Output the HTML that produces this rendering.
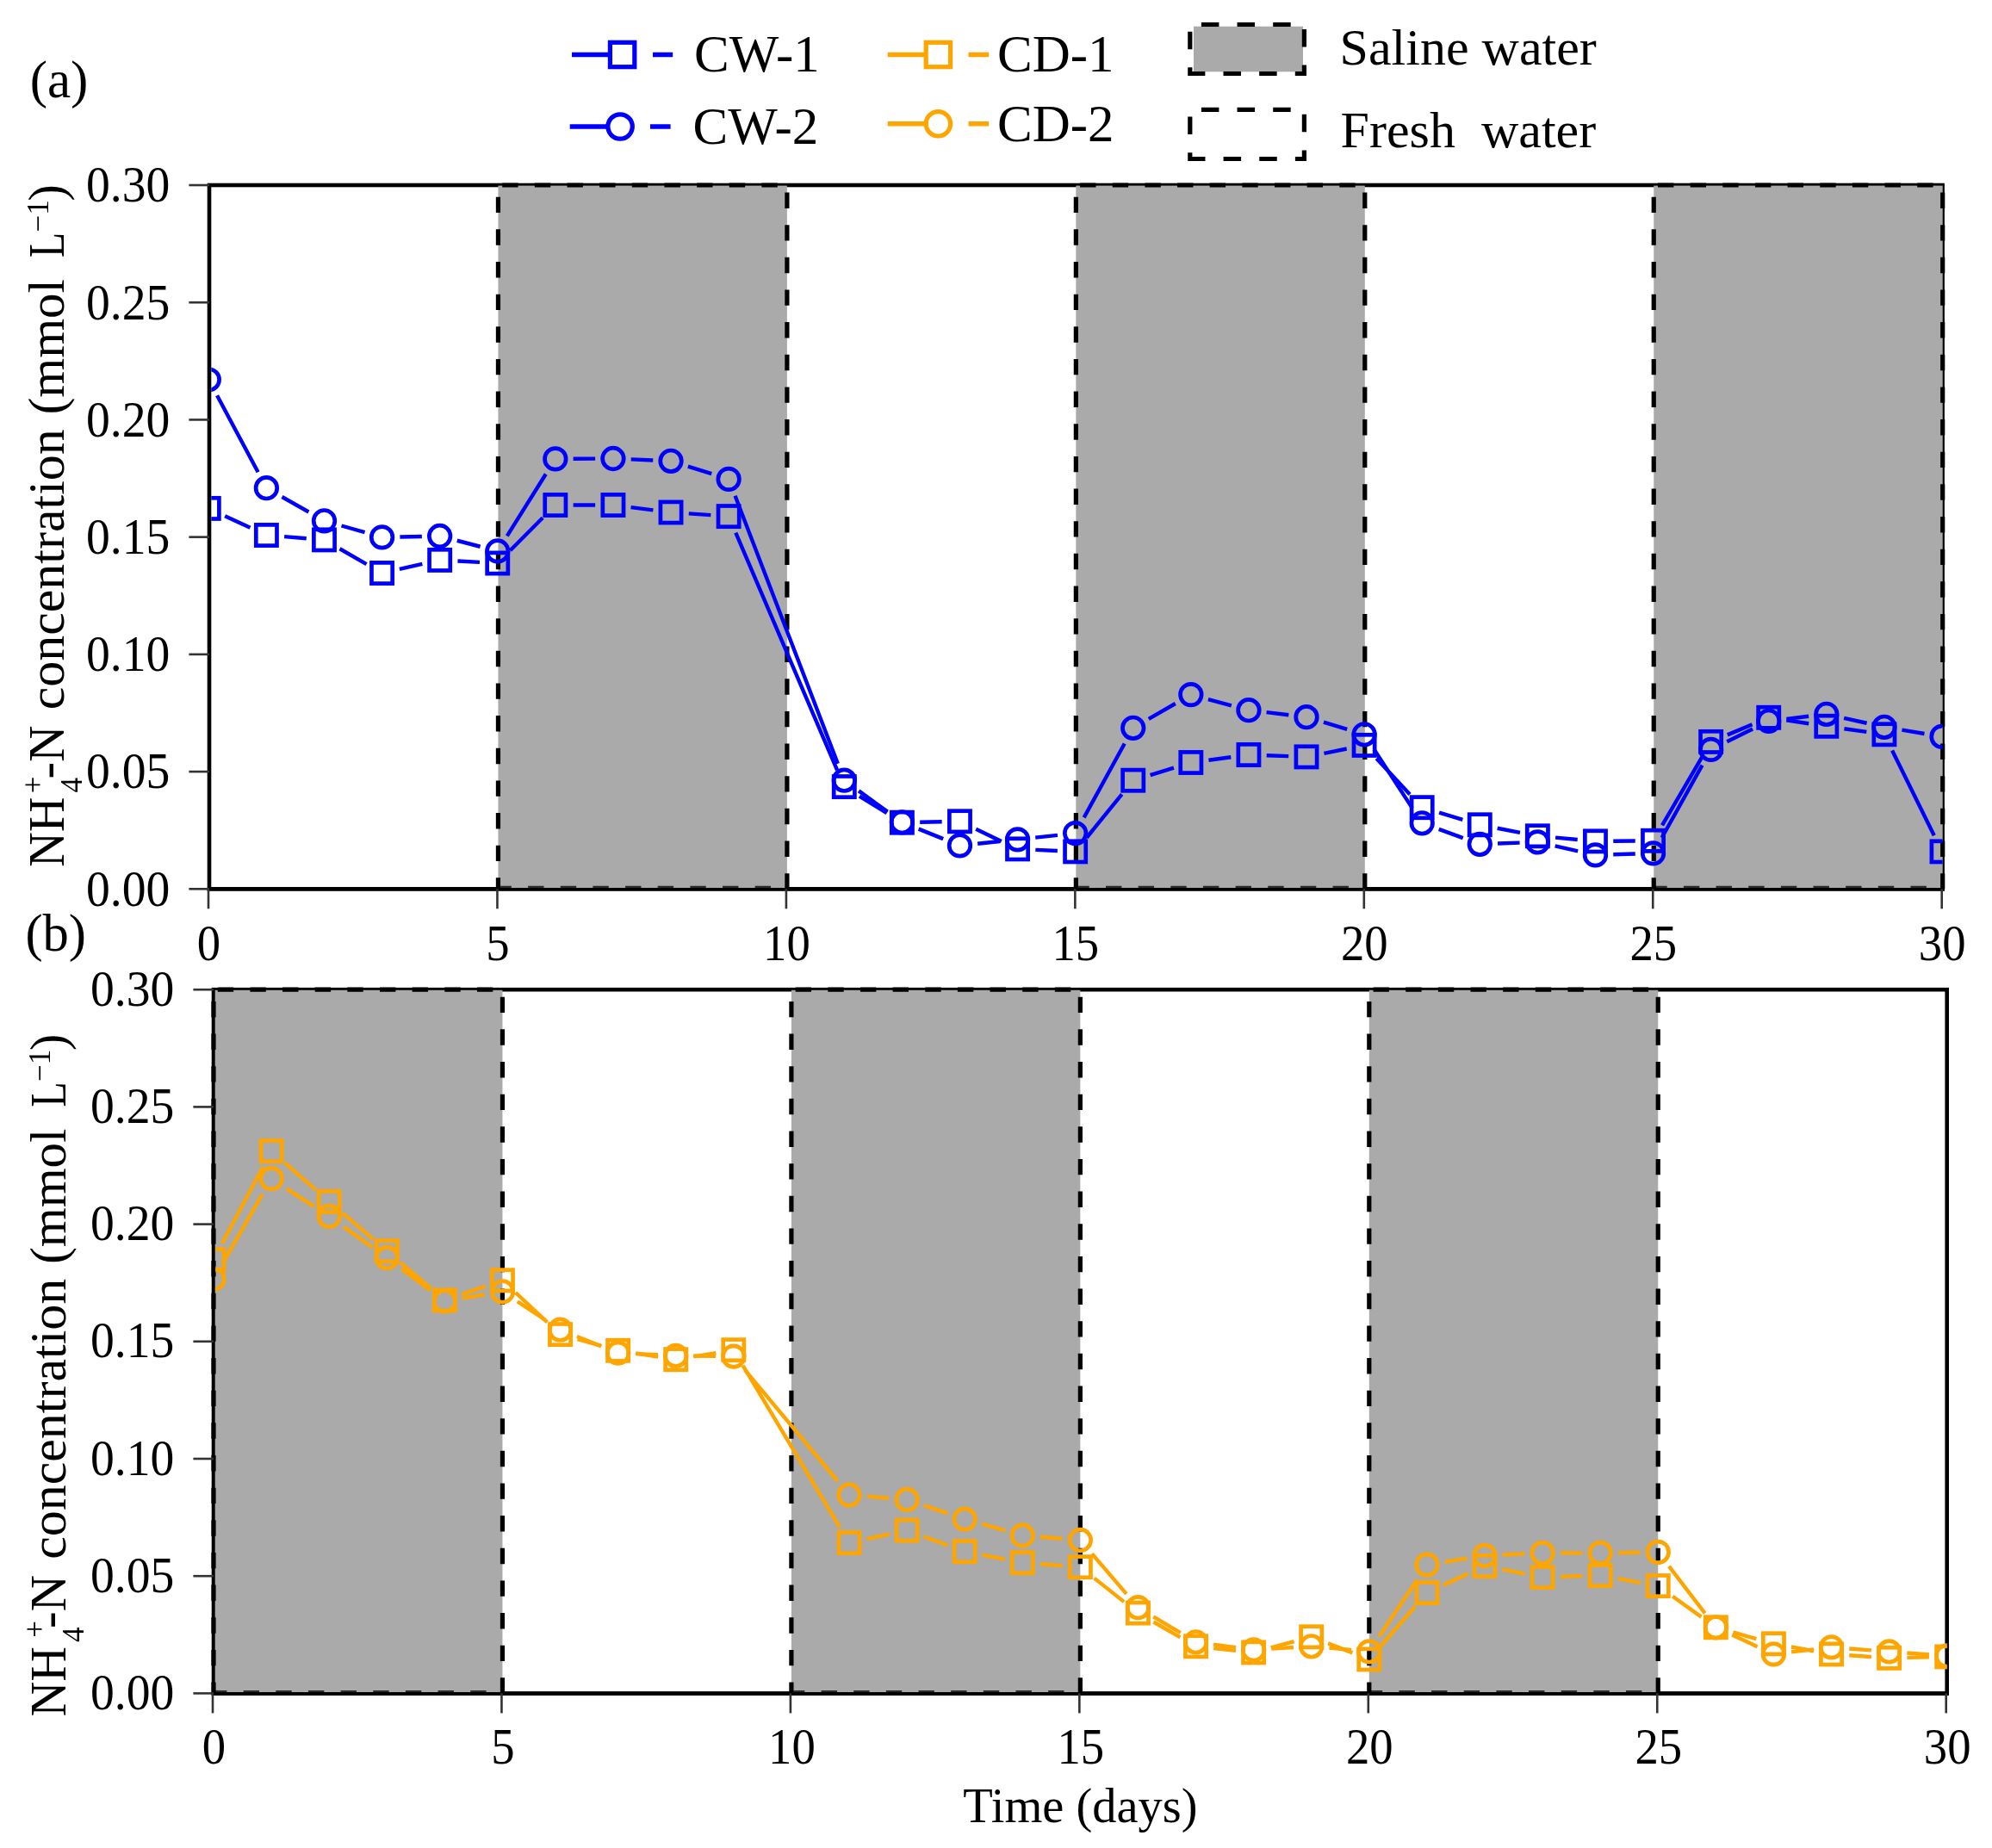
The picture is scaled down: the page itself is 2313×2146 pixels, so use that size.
<!DOCTYPE html>
<html lang="en"><head><meta charset="utf-8"><title>NH4+-N concentration</title>
<style>html,body{margin:0;padding:0;background:#fff}svg{display:block;filter:blur(0.55px)}text{font-family:'Liberation Serif', 'Times New Roman', serif;fill:#000}</style></head><body>
<svg width="2313" height="2146" viewBox="0 0 2313 2146">
<rect width="2313" height="2146" fill="#fff"/>
<g id="panel-a">
<rect x="243" y="215" width="2012.6" height="817.3" fill="none" stroke="#000" stroke-width="4.6"/>
<rect x="578.45" y="215.6" width="335.45" height="815.7" fill="#aaaaaa"/>
<rect x="1249.35" y="215.6" width="335.45" height="815.7" fill="#aaaaaa"/>
<rect x="1920.25" y="215.6" width="335.45" height="815.7" fill="#aaaaaa"/>
<g fill="none" stroke="#000" stroke-width="5.2" stroke-dasharray="18.4 19.25">
<path d="M578.45 215H913.9" stroke-dashoffset="-4.75"/>
<path d="M913.9 215V1032.3" stroke-dashoffset="-8.5"/>
<path d="M913.9 1031.4H578.45" stroke-dashoffset="-18.85" stroke="#2a2a2a"/>
<path d="M578.45 215V1032.3" stroke-dashoffset="-13.7"/>
<path d="M1249.35 215H1584.8" stroke-dashoffset="-4.75"/>
<path d="M1584.8 215V1032.3" stroke-dashoffset="-8.5"/>
<path d="M1584.8 1031.4H1249.35" stroke-dashoffset="-18.85" stroke="#2a2a2a"/>
<path d="M1249.35 215V1032.3" stroke-dashoffset="-13.7"/>
<path d="M1920.25 215H2255.7" stroke-dashoffset="-4.75"/>
<path d="M2255.7 215V1032.3" stroke-dashoffset="-8.5"/>
<path d="M2255.7 1031.4H1920.25" stroke-dashoffset="-18.85" stroke="#2a2a2a"/>
<path d="M1920.25 215V1032.3" stroke-dashoffset="-13.7"/>
</g>
<path d="M240.7 1032.8H2257.9" stroke="#000" stroke-width="3.6"/>
<g stroke="#333" stroke-width="2.6">
<line x1="219.4" y1="1032.3" x2="243" y2="1032.3"/>
<line x1="219.4" y1="896.08" x2="243" y2="896.08"/>
<line x1="219.4" y1="759.87" x2="243" y2="759.87"/>
<line x1="219.4" y1="623.65" x2="243" y2="623.65"/>
<line x1="219.4" y1="487.43" x2="243" y2="487.43"/>
<line x1="219.4" y1="351.22" x2="243" y2="351.22"/>
<line x1="219.4" y1="215" x2="243" y2="215"/>
<line x1="242" y1="1032.3" x2="242" y2="1055.3"/>
<line x1="577.45" y1="1032.3" x2="577.45" y2="1055.3"/>
<line x1="912.9" y1="1032.3" x2="912.9" y2="1055.3"/>
<line x1="1248.35" y1="1032.3" x2="1248.35" y2="1055.3"/>
<line x1="1583.8" y1="1032.3" x2="1583.8" y2="1055.3"/>
<line x1="1919.25" y1="1032.3" x2="1919.25" y2="1055.3"/>
<line x1="2254.7" y1="1032.3" x2="2254.7" y2="1055.3"/>
</g>
<clipPath id="clip-a"><rect x="245.3" y="215" width="2010.3" height="817.3"/></clipPath>
<g clip-path="url(#clip-a)">
<path d="M261.17 599.15L290.52 612.75M330.12 623.17L355.75 625.23M394.51 637.27L425.54 655.13M463.86 660.93L490.37 654.97M531.43 651.51L556.98 652.89M592.41 639.25L630.18 601.25M665.64 586.5L691.13 586.5M732.57 589.11L758.38 592.39M799.77 596.42L825.36 598.18M854.28 618.73L972.12 894.47M997.97 924.56L1029.7 944.24M1068.18 954.77L1093.67 954.23M1133.23 962.78L1162.8 976.92M1202.34 986.83L1227.87 987.97M1261.75 972.75L1302.64 922.35M1335.62 900.07L1362.95 891.63M1403.45 882.73L1429.3 879.27M1470.71 877.24L1496.22 878.16M1537.4 874.8L1563.71 869.5M1598.25 880.65L1637.04 922.45M1671.11 943.67L1698.36 951.83M1738.7 961.76L1764.95 966.84M1806.08 972.68L1831.75 975.02M1873.26 976.71L1898.75 976.49M1930.04 958.34L1976.15 879.36M2005.83 853.36L2034.54 841.34M2074.3 836.37L2100.25 840.23M2141.41 846.22L2167.32 849.88M2197.11 871.46L2245.8 970.24" fill="none" stroke="#0000ff" stroke-width="4.4"/>
<g fill="none" stroke="#0000ff" stroke-width="4.7">
<rect x="230.2" y="578.3" width="24.2" height="24.2"/>
<rect x="297.29" y="609.4" width="24.2" height="24.2"/>
<rect x="364.38" y="614.8" width="24.2" height="24.2"/>
<rect x="431.47" y="653.4" width="24.2" height="24.2"/>
<rect x="498.56" y="638.3" width="24.2" height="24.2"/>
<rect x="565.65" y="641.9" width="24.2" height="24.2"/>
<rect x="632.74" y="574.4" width="24.2" height="24.2"/>
<rect x="699.83" y="574.4" width="24.2" height="24.2"/>
<rect x="766.92" y="582.9" width="24.2" height="24.2"/>
<rect x="834.01" y="587.5" width="24.2" height="24.2"/>
<rect x="968.19" y="901.5" width="24.2" height="24.2"/>
<rect x="1035.28" y="943.1" width="24.2" height="24.2"/>
<rect x="1102.37" y="941.7" width="24.2" height="24.2"/>
<rect x="1169.46" y="973.8" width="24.2" height="24.2"/>
<rect x="1236.55" y="976.8" width="24.2" height="24.2"/>
<rect x="1303.64" y="894.1" width="24.2" height="24.2"/>
<rect x="1370.73" y="873.4" width="24.2" height="24.2"/>
<rect x="1437.82" y="864.4" width="24.2" height="24.2"/>
<rect x="1504.91" y="866.8" width="24.2" height="24.2"/>
<rect x="1572" y="853.3" width="24.2" height="24.2"/>
<rect x="1639.09" y="925.6" width="24.2" height="24.2"/>
<rect x="1706.18" y="945.7" width="24.2" height="24.2"/>
<rect x="1773.27" y="958.7" width="24.2" height="24.2"/>
<rect x="1840.36" y="964.8" width="24.2" height="24.2"/>
<rect x="1907.45" y="964.2" width="24.2" height="24.2"/>
<rect x="1974.54" y="849.3" width="24.2" height="24.2"/>
<rect x="2041.63" y="821.2" width="24.2" height="24.2"/>
<rect x="2108.72" y="831.2" width="24.2" height="24.2"/>
<rect x="2175.81" y="840.7" width="24.2" height="24.2"/>
<rect x="2242.9" y="976.8" width="24.2" height="24.2"/>
</g>
<path d="M252.08 459.16L299.61 548.34M327.48 576.97L358.39 594.53M396.49 610.5L423.56 618.2M464.37 623.47L489.86 622.93M530.79 627.75L557.62 634.75M588.79 622.37L633.8 550.53M665.64 532.78L691.13 532.62M732.71 533.37L758.24 534.43M798.86 541.54L826.27 550.16M853.56 575.82L972.84 886.78M997.13 918.4L1030.54 942.6M1066.67 962.59L1095.18 974.11M1135.16 979.74L1160.87 977.06M1202.24 972.65L1227.97 969.85M1258.65 949.36L1305.74 863.54M1333.76 834.91L1364.81 816.99M1402.91 812.02L1429.84 819.28M1470.57 827.16L1496.36 830.24M1536.93 838.67L1564.18 846.83M1595.45 870.23L1639.84 938.37M1670.73 962.93L1698.74 973.17M1739.07 979.56L1764.58 978.64M1805.67 982.44L1832.16 988.36M1873.25 992.28L1898.76 991.52M1929.67 972.73L1976.52 888.57M2005.29 861.2L2035.08 846.5M2074.38 834.84L2100.17 831.76M2141.12 833.84L2167.61 839.76M2208.43 847.7L2234.48 852" fill="none" stroke="#0000ff" stroke-width="4.4"/>
<g fill="none" stroke="#0000ff" stroke-width="4.7">
<circle cx="242.3" cy="440.8" r="12.3"/>
<circle cx="309.39" cy="566.7" r="12.3"/>
<circle cx="376.48" cy="604.8" r="12.3"/>
<circle cx="443.57" cy="623.9" r="12.3"/>
<circle cx="510.66" cy="622.5" r="12.3"/>
<circle cx="577.75" cy="640" r="12.3"/>
<circle cx="644.84" cy="532.9" r="12.3"/>
<circle cx="711.93" cy="532.5" r="12.3"/>
<circle cx="779.02" cy="535.3" r="12.3"/>
<circle cx="846.11" cy="556.4" r="12.3"/>
<circle cx="980.29" cy="906.2" r="12.3"/>
<circle cx="1047.38" cy="954.8" r="12.3"/>
<circle cx="1114.47" cy="981.9" r="12.3"/>
<circle cx="1181.56" cy="974.9" r="12.3"/>
<circle cx="1248.65" cy="967.6" r="12.3"/>
<circle cx="1315.74" cy="845.3" r="12.3"/>
<circle cx="1382.83" cy="806.6" r="12.3"/>
<circle cx="1449.92" cy="824.7" r="12.3"/>
<circle cx="1517.01" cy="832.7" r="12.3"/>
<circle cx="1584.1" cy="852.8" r="12.3"/>
<circle cx="1651.19" cy="955.8" r="12.3"/>
<circle cx="1718.28" cy="980.3" r="12.3"/>
<circle cx="1785.37" cy="977.9" r="12.3"/>
<circle cx="1852.46" cy="992.9" r="12.3"/>
<circle cx="1919.55" cy="990.9" r="12.3"/>
<circle cx="1986.64" cy="870.4" r="12.3"/>
<circle cx="2053.73" cy="837.3" r="12.3"/>
<circle cx="2120.82" cy="829.3" r="12.3"/>
<circle cx="2187.91" cy="844.3" r="12.3"/>
<circle cx="2255" cy="855.4" r="12.3"/>
</g>
</g>
<g font-size="59.5" text-anchor="end">
<text transform="translate(197.3 1051.6) scale(0.935 1)">0.00</text>
<text transform="translate(197.3 915.38) scale(0.935 1)">0.05</text>
<text transform="translate(197.3 779.17) scale(0.935 1)">0.10</text>
<text transform="translate(197.3 642.95) scale(0.935 1)">0.15</text>
<text transform="translate(197.3 506.73) scale(0.935 1)">0.20</text>
<text transform="translate(197.3 370.52) scale(0.935 1)">0.25</text>
<text transform="translate(197.3 234.3) scale(0.935 1)">0.30</text>
</g>
<g font-size="59.5" text-anchor="middle">
<text transform="translate(242.5 1114.8) scale(0.92 1)">0</text>
<text transform="translate(577.95 1114.8) scale(0.92 1)">5</text>
<text transform="translate(913.4 1114.8) scale(0.92 1)">10</text>
<text transform="translate(1248.85 1114.8) scale(0.92 1)">15</text>
<text transform="translate(1584.3 1114.8) scale(0.92 1)">20</text>
<text transform="translate(1919.75 1114.8) scale(0.92 1)">25</text>
<text transform="translate(2255.2 1114.8) scale(0.92 1)">30</text>
</g>
<g transform="translate(73.8 1006.5) rotate(-90)" font-size="59">
<text x="-0.5" y="0" textLength="81.5" lengthAdjust="spacingAndGlyphs">NH</text>
<text x="85.9" y="20.9" font-size="35">4</text>
<text x="85.3" y="-23.6" font-size="35">+</text>
<text x="101.9" y="0">-N</text>
<text x="182.2" y="0" textLength="326" lengthAdjust="spacingAndGlyphs">concentration</text>
<text x="525.2" y="0">(mmol</text>
<text x="707.3" y="0" textLength="29.5" lengthAdjust="spacingAndGlyphs">L</text>
<text x="737.1" y="-18.3" font-size="35">−1</text>
<text x="772.8" y="0">)</text>
</g>
</g>
<g id="panel-b">
<rect x="248" y="1149.2" width="2012.7" height="817.2" fill="none" stroke="#000" stroke-width="4.6"/>
<rect x="249.7" y="1149.8" width="333.75" height="815.6" fill="#aaaaaa"/>
<rect x="918.9" y="1149.8" width="335.45" height="815.6" fill="#aaaaaa"/>
<rect x="1589.8" y="1149.8" width="335.45" height="815.6" fill="#aaaaaa"/>
<g fill="none" stroke="#000" stroke-width="5.2" stroke-dasharray="18.4 19.25">
<path d="M248 1149.2H583.45" stroke-dashoffset="-4.75"/>
<path d="M583.45 1149.2V1966.4" stroke-dashoffset="-8.5"/>
<path d="M583.45 1965.5H248" stroke-dashoffset="-18.85" stroke="#2a2a2a"/>
<path d="M248 1149.2V1966.4" stroke-dashoffset="-13.7"/>
<path d="M918.9 1149.2H1254.35" stroke-dashoffset="-4.75"/>
<path d="M1254.35 1149.2V1966.4" stroke-dashoffset="-8.5"/>
<path d="M1254.35 1965.5H918.9" stroke-dashoffset="-18.85" stroke="#2a2a2a"/>
<path d="M918.9 1149.2V1966.4" stroke-dashoffset="-13.7"/>
<path d="M1589.8 1149.2H1925.25" stroke-dashoffset="-4.75"/>
<path d="M1925.25 1149.2V1966.4" stroke-dashoffset="-8.5"/>
<path d="M1925.25 1965.5H1589.8" stroke-dashoffset="-18.85" stroke="#2a2a2a"/>
<path d="M1589.8 1149.2V1966.4" stroke-dashoffset="-13.7"/>
</g>
<path d="M245.7 1966.9H2263" stroke="#000" stroke-width="3.6"/>
<g stroke="#333" stroke-width="2.6">
<line x1="224.4" y1="1966.4" x2="248" y2="1966.4"/>
<line x1="224.4" y1="1830.2" x2="248" y2="1830.2"/>
<line x1="224.4" y1="1694" x2="248" y2="1694"/>
<line x1="224.4" y1="1557.8" x2="248" y2="1557.8"/>
<line x1="224.4" y1="1421.6" x2="248" y2="1421.6"/>
<line x1="224.4" y1="1285.4" x2="248" y2="1285.4"/>
<line x1="224.4" y1="1149.2" x2="248" y2="1149.2"/>
<line x1="247" y1="1966.4" x2="247" y2="1989.4"/>
<line x1="582.45" y1="1966.4" x2="582.45" y2="1989.4"/>
<line x1="917.9" y1="1966.4" x2="917.9" y2="1989.4"/>
<line x1="1253.35" y1="1966.4" x2="1253.35" y2="1989.4"/>
<line x1="1588.8" y1="1966.4" x2="1588.8" y2="1989.4"/>
<line x1="1924.25" y1="1966.4" x2="1924.25" y2="1989.4"/>
<line x1="2259.7" y1="1966.4" x2="2259.7" y2="1989.4"/>
</g>
<clipPath id="clip-b"><rect x="250.3" y="1149.2" width="2010.4" height="817.2"/></clipPath>
<g clip-path="url(#clip-b)">
<path d="M257.77 1444.34L305.32 1354.96M330.73 1350.31L366.54 1381.69M398 1408.91L433.45 1439.19M465.1 1466.19L500.53 1496.41M536.03 1503.13L563.78 1493.57M598.64 1501.01L635.35 1535.39M670.58 1555.18L697.59 1562.72M738.18 1571.49L764.17 1575.51M805.25 1575.33L831.28 1571.07M862.5 1585.54L975.3 1773.76M1006.32 1787.21L1032.75 1781.49M1072.62 1784.23L1100.63 1794.47M1140.58 1805.59L1166.85 1810.71M1208 1816.25L1233.61 1818.15M1270.62 1832.65L1305.17 1860.15M1339.46 1883.49L1370.51 1901.41M1409.21 1913.99L1434.94 1916.71M1475.7 1913.48L1502.63 1906.22M1542.09 1908.34L1570.42 1919.36M1603.43 1911.19L1643.26 1865.31M1675.76 1840.85L1705.11 1827.25M1744.4 1822.46L1770.65 1827.54M1811.86 1830.88L1837.37 1830.12M1878.63 1833.19L1904.78 1837.91M1942.14 1853.74L1975.45 1877.66M2012.35 1895.47L2039.42 1903.13M2079.9 1912.49L2106.05 1917.21M2147.28 1922.26L2172.85 1923.94M2214.41 1924.87L2239.9 1924.33" fill="none" stroke="#ffa500" stroke-width="4.4"/>
<g fill="none" stroke="#ffa500" stroke-width="4.7">
<rect x="235.9" y="1450.6" width="24.2" height="24.2"/>
<rect x="302.99" y="1324.5" width="24.2" height="24.2"/>
<rect x="370.08" y="1383.3" width="24.2" height="24.2"/>
<rect x="437.17" y="1440.6" width="24.2" height="24.2"/>
<rect x="504.26" y="1497.8" width="24.2" height="24.2"/>
<rect x="571.35" y="1474.7" width="24.2" height="24.2"/>
<rect x="638.44" y="1537.5" width="24.2" height="24.2"/>
<rect x="705.53" y="1556.2" width="24.2" height="24.2"/>
<rect x="772.62" y="1566.6" width="24.2" height="24.2"/>
<rect x="839.71" y="1555.6" width="24.2" height="24.2"/>
<rect x="973.89" y="1779.5" width="24.2" height="24.2"/>
<rect x="1040.98" y="1765" width="24.2" height="24.2"/>
<rect x="1108.07" y="1789.5" width="24.2" height="24.2"/>
<rect x="1175.16" y="1802.6" width="24.2" height="24.2"/>
<rect x="1242.25" y="1807.6" width="24.2" height="24.2"/>
<rect x="1309.34" y="1861" width="24.2" height="24.2"/>
<rect x="1376.43" y="1899.7" width="24.2" height="24.2"/>
<rect x="1443.52" y="1906.8" width="24.2" height="24.2"/>
<rect x="1510.61" y="1888.7" width="24.2" height="24.2"/>
<rect x="1577.7" y="1914.8" width="24.2" height="24.2"/>
<rect x="1644.79" y="1837.5" width="24.2" height="24.2"/>
<rect x="1711.88" y="1806.4" width="24.2" height="24.2"/>
<rect x="1778.97" y="1819.4" width="24.2" height="24.2"/>
<rect x="1846.06" y="1817.4" width="24.2" height="24.2"/>
<rect x="1913.15" y="1829.5" width="24.2" height="24.2"/>
<rect x="1980.24" y="1877.7" width="24.2" height="24.2"/>
<rect x="2047.33" y="1896.7" width="24.2" height="24.2"/>
<rect x="2114.42" y="1908.8" width="24.2" height="24.2"/>
<rect x="2181.51" y="1913.2" width="24.2" height="24.2"/>
<rect x="2248.6" y="1911.8" width="24.2" height="24.2"/>
</g>
<path d="M258.38 1467.18L304.71 1386.72M332.51 1380.07L364.76 1401.13M399.07 1424.64L432.38 1448.56M465.92 1473.16L499.71 1498.44M536.89 1507.56L562.92 1503.34M600.82 1511.44L633.17 1532.76M669.85 1551.94L698.32 1563.36M738.41 1572.09L763.94 1573.31M805.52 1574.55L831.01 1574.85M865.13 1591.07L972.67 1720.03M1006.72 1737.67L1032.35 1739.73M1072.78 1748.07L1100.47 1757.43M1140.19 1769.74L1167.24 1777.36M1207.99 1784.7L1233.62 1786.8M1267.89 1804.29L1307.9 1850.91M1339.29 1877.37L1370.68 1896.13M1409.14 1909.6L1435.01 1913.1M1476.38 1914.63L1501.95 1913.07M1543.42 1913.68L1569.09 1916.02M1601.32 1900.58L1645.37 1834.42M1677.43 1813.82L1703.44 1809.68M1744.76 1805.47L1770.29 1804.33M1811.87 1803.4L1837.36 1803.4M1878.96 1803.09L1904.45 1802.71M1937.92 1818.9L1979.67 1873.3M2011.21 1898.55L2040.56 1912.15M2080.08 1918.44L2105.87 1915.36M2147.26 1914.45L2172.87 1916.35M2214.35 1919.45L2239.96 1921.35" fill="none" stroke="#ffa500" stroke-width="4.4"/>
<g fill="none" stroke="#ffa500" stroke-width="4.7">
<circle cx="248" cy="1485.2" r="12.3"/>
<circle cx="315.09" cy="1368.7" r="12.3"/>
<circle cx="382.18" cy="1412.5" r="12.3"/>
<circle cx="449.27" cy="1460.7" r="12.3"/>
<circle cx="516.36" cy="1510.9" r="12.3"/>
<circle cx="583.45" cy="1500" r="12.3"/>
<circle cx="650.54" cy="1544.2" r="12.3"/>
<circle cx="717.63" cy="1571.1" r="12.3"/>
<circle cx="784.72" cy="1574.3" r="12.3"/>
<circle cx="851.81" cy="1575.1" r="12.3"/>
<circle cx="985.99" cy="1736" r="12.3"/>
<circle cx="1053.08" cy="1741.4" r="12.3"/>
<circle cx="1120.17" cy="1764.1" r="12.3"/>
<circle cx="1187.26" cy="1783" r="12.3"/>
<circle cx="1254.35" cy="1788.5" r="12.3"/>
<circle cx="1321.44" cy="1866.7" r="12.3"/>
<circle cx="1388.53" cy="1906.8" r="12.3"/>
<circle cx="1455.62" cy="1915.9" r="12.3"/>
<circle cx="1522.71" cy="1911.8" r="12.3"/>
<circle cx="1589.8" cy="1917.9" r="12.3"/>
<circle cx="1656.89" cy="1817.1" r="12.3"/>
<circle cx="1723.98" cy="1806.4" r="12.3"/>
<circle cx="1791.07" cy="1803.4" r="12.3"/>
<circle cx="1858.16" cy="1803.4" r="12.3"/>
<circle cx="1925.25" cy="1802.4" r="12.3"/>
<circle cx="1992.34" cy="1889.8" r="12.3"/>
<circle cx="2059.43" cy="1920.9" r="12.3"/>
<circle cx="2126.52" cy="1912.9" r="12.3"/>
<circle cx="2193.61" cy="1917.9" r="12.3"/>
<circle cx="2260.7" cy="1922.9" r="12.3"/>
</g>
</g>
<g font-size="59.5" text-anchor="end">
<text transform="translate(202.3 1985) scale(0.935 1)">0.00</text>
<text transform="translate(202.3 1848.8) scale(0.935 1)">0.05</text>
<text transform="translate(202.3 1712.6) scale(0.935 1)">0.10</text>
<text transform="translate(202.3 1576.4) scale(0.935 1)">0.15</text>
<text transform="translate(202.3 1440.2) scale(0.935 1)">0.20</text>
<text transform="translate(202.3 1304) scale(0.935 1)">0.25</text>
<text transform="translate(202.3 1167.8) scale(0.935 1)">0.30</text>
</g>
<g font-size="59.5" text-anchor="middle">
<text transform="translate(248.5 2048.2) scale(0.92 1)">0</text>
<text transform="translate(583.95 2048.2) scale(0.92 1)">5</text>
<text transform="translate(919.4 2048.2) scale(0.92 1)">10</text>
<text transform="translate(1254.85 2048.2) scale(0.92 1)">15</text>
<text transform="translate(1590.3 2048.2) scale(0.92 1)">20</text>
<text transform="translate(1925.75 2048.2) scale(0.92 1)">25</text>
<text transform="translate(2261.2 2048.2) scale(0.92 1)">30</text>
</g>
<g transform="translate(76 1993) rotate(-90)" font-size="59">
<text x="-0.5" y="0" textLength="81.5" lengthAdjust="spacingAndGlyphs">NH</text>
<text x="85.9" y="20.9" font-size="35">4</text>
<text x="91.3" y="-23.6" font-size="35">+</text>
<text x="101.9" y="0">-N</text>
<text x="182.2" y="0" textLength="326" lengthAdjust="spacingAndGlyphs">concentration</text>
<text x="525.2" y="0">(mmol</text>
<text x="707.3" y="0" textLength="29.5" lengthAdjust="spacingAndGlyphs">L</text>
<text x="737.1" y="-18.3" font-size="35">−1</text>
<text x="772.8" y="0">)</text>
</g>
</g>
<g id="legend">
<g fill="none" stroke="#0000ff">
<path d="M664 63.5H708.6 M758 63.5H781.2" stroke-width="5.6"/>
<rect x="708.4" y="49.3" width="28.4" height="28.4" stroke-width="5.2"/>
</g>
<g fill="none" stroke="#0000ff">
<path d="M661.7 147H706.1 M755 147H778.6" stroke-width="5.6"/>
<circle cx="720.1" cy="147" r="14.2" stroke-width="5.2"/>
</g>
<g fill="none" stroke="#ffa500">
<path d="M1030.7 63.5H1075.4 M1124.5 63.5H1148.2" stroke-width="5.6"/>
<rect x="1075.2" y="49.3" width="28.4" height="28.4" stroke-width="5.2"/>
</g>
<g fill="none" stroke="#ffa500">
<path d="M1030.7 143.8H1075.4 M1124.5 143.8H1148.2" stroke-width="5.6"/>
<circle cx="1089.4" cy="143.8" r="14.2" stroke-width="5.2"/>
</g>
<g font-size="61">
<text x="806" y="82.9">CW-1</text>
<text x="804.5" y="167.1">CW-2</text>
<text x="1158" y="82.9">CD-1</text>
<text x="1158" y="163.7">CD-2</text>
</g>
<rect x="1386" y="30.7" width="127" height="52.6" fill="#aaaaaa"/>
<g fill="none" stroke="#000" stroke-width="5.2" stroke-dasharray="20.5 21.15">
<path d="M1381.8 28.5H1514.4V85.5H1381.8" stroke-dashoffset="-13.1"/>
<path d="M1381.8 28.5V88.1" stroke-dashoffset="-8.2"/>
</g>
<g fill="none" stroke="#000" stroke-width="5.2" stroke-dasharray="20.5 21.15">
<path d="M1381.8 127.4H1514.4V184.5H1381.8" stroke-dashoffset="-13.1"/>
<path d="M1381.8 127.4V187.1" stroke-dashoffset="-8.2"/>
</g>
<g font-size="60">
<text x="1555.6" y="74.8">Saline water</text>
<text x="1556.6" y="171.2" xml:space="preserve">Fresh  water</text>
</g>
</g>
<text x="34.7" y="113" font-size="61">(a)</text>
<text x="29.4" y="1104.3" font-size="60.6">(b)</text>
<text transform="translate(1254.4 2116.2) scale(0.982 1)" font-size="57.5" text-anchor="middle">Time (days)</text>
</svg></body></html>
